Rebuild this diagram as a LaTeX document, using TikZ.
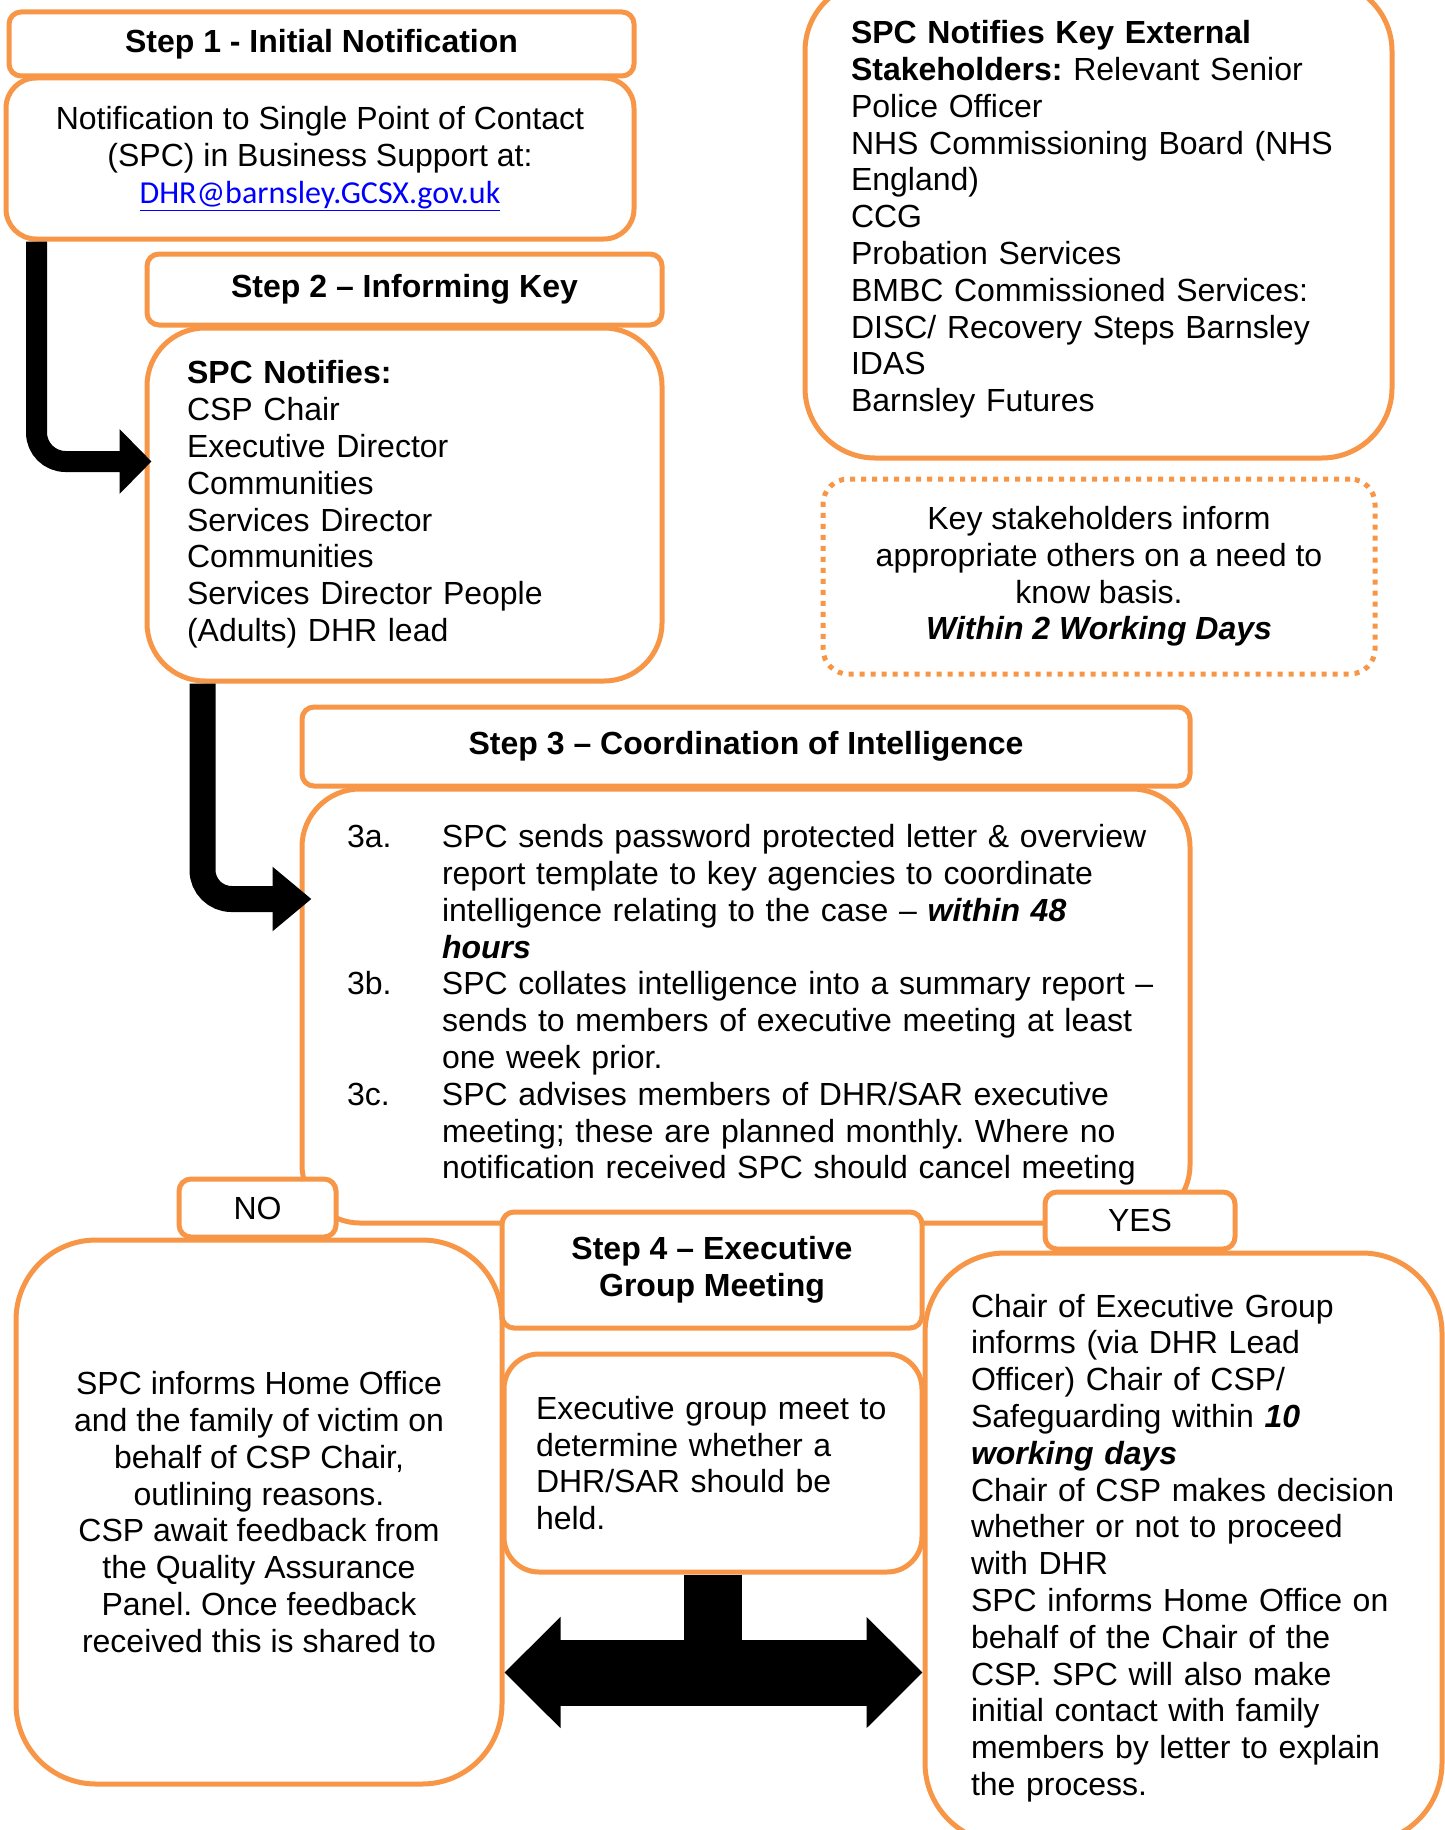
\documentclass[tikz,border=0pt]{standalone}
\usepackage{fontspec}
\setmainfont{Liberation Sans}
\newfontfamily\linkfont{Carlito}
\usepackage{tikz}
\usetikzlibrary{arrows.meta}
\definecolor{stepor}{RGB}{247,150,70}
\definecolor{linkblue}{RGB}{0,0,255}
\frenchspacing

\begin{document}
\begin{tikzpicture}[x=1pt,y=-1pt,font=\fontsize{32}{36.8}\selectfont,
  box/.style={draw=stepor,line width=5pt,fill=white,inner sep=0pt},
  head/.style={box,rounded corners=12pt,align=center,font=\fontsize{32}{36.8}\selectfont\bfseries},
  tag/.style={box,rounded corners=12pt,align=center},
  bigarrow/.style={line width=#1,draw=black}]
\useasboundingbox (0,0) rectangle (1444,1830);
\node[head,minimum width=625pt,minimum height=64pt] (s1head) at (321.5,44) {Step 1 - Initial Notification};
\node[box,rounded corners=30pt,minimum width=628pt,minimum height=161pt,align=center] (s1body) at (320,158.5) {Notification to Single Point of Contact\\(SPC) in Business Support at:\\{\linkfont\color{linkblue}\underline{DHR@barnsley.GCSX.gov.uk}}};
\node[head,minimum width=515pt,minimum height=71pt] (s2head) at (404.5,289.5) {Step 2 – Informing Key};
\node[box,rounded corners=58pt,text width=435pt,inner xsep=40pt,minimum height=353pt,align=left] (s2body) at (404.5,504.5) {\textbf{SPC Notifies:}\\CSP Chair\\Executive Director\\Communities\\Services Director\\Communities\\Services Director People\\(Adults) DHR lead};
\node[box,rounded corners=70pt,text width=495pt,inner xsep=46pt,minimum height=477pt,align=left] (ext) at (1098.5,219.5) {\textbf{SPC Notifies Key External}\\\textbf{Stakeholders:} Relevant Senior\\Police Officer\\NHS Commissioning Board (NHS\\England)\\CCG\\Probation Services\\BMBC Commissioned Services:\\DISC/ Recovery Steps Barnsley\\IDAS\\Barnsley Futures};
\node[box,dash pattern=on 5pt off 6pt,rounded corners=25pt,minimum width=552pt,minimum height=195pt,align=center] (inform) at (1099,576.5) {Key stakeholders inform\\appropriate others on a need to\\know basis.\\\textbf{\textit{Within 2 Working Days}}};
\node[head,minimum width=888pt,minimum height=79pt] (s3head) at (746,746.5) {Step 3 – Coordination of Intelligence};
\node[box,rounded corners=58pt,text width=798pt,inner xsep=45pt,minimum height=434pt,align=left] (s3body) at (746,1006) {\begin{tabular}{@{}p{95pt}@{}l@{}}
3a. & SPC sends password protected letter \& overview\\
    & report template to key agencies to coordinate\\
    & intelligence relating to the case – \textbf{\textit{within 48}}\\
    & \textbf{\textit{hours}}\\
3b. & SPC collates intelligence into a summary report –\\
    & sends to members of executive meeting at least\\
    & one week prior.\\
3c. & SPC advises members of DHR/SAR executive\\
    & meeting; these are planned monthly. Where no\\
    & notification received SPC should cancel meeting
\end{tabular}};
\node[tag,minimum width=157pt,minimum height=58pt] (no) at (257.5,1208) {NO};
\node[box,rounded corners=80pt,minimum width=486pt,minimum height=544pt,align=center] (nobody) at (259,1512) {SPC informs Home Office\\and the family of victim on\\behalf of CSP Chair,\\outlining reasons.\\CSP await feedback from\\the Quality Assurance\\Panel. Once feedback\\received this is shared to};
\node[head,minimum width=420pt,minimum height=116pt] (s4head) at (712,1270) {Step 4 – Executive\\Group Meeting};
\node[box,rounded corners=35pt,text width=354pt,inner xsep=32pt,minimum height=218pt,align=left] (s4body) at (713,1463) {Executive group meet to\\determine whether a\\DHR/SAR should be\\held.};
\node[tag,minimum width=190pt,minimum height=57pt] (yes) at (1140,1220.5) {YES};
\node[box,rounded corners=80pt,text width=425pt,inner xsep=46pt,minimum height=590pt,align=left] (yesbody) at (1183.5,1548) {Chair of Executive Group\\informs (via DHR Lead\\Officer) Chair of CSP/\\Safeguarding within \textbf{\textit{10}}\\\textbf{\textit{working days}}\\Chair of CSP makes decision\\whether or not to proceed\\with DHR\\SPC informs Home Office on\\behalf of the Chair of the\\CSP. SPC will also make\\initial contact with family\\members by letter to explain\\the process.};
\draw[bigarrow=21pt,rounded corners=29pt,-{Triangle[length=32pt,width=63pt]}] ([xshift=33pt]s1body.south west) |- ([xshift=7pt,yshift=43pt]s2body.west);
\draw[bigarrow=26pt,rounded corners=29pt,-{Triangle[length=39pt,width=62pt]}] ([xshift=58pt]s2body.south west) |- ([xshift=12pt,yshift=107pt]s3body.west);
\coordinate (fork) at ([yshift=-98pt]s4body.south);
\draw[bigarrow=58pt] (s4body.south) -- (fork);
\draw[bigarrow=66pt,{Triangle[length=56pt,width=108pt]}-{Triangle[length=56pt,width=108pt]}] (nobody.east |- fork) -- (yesbody.west |- fork);
\end{tikzpicture}
\end{document}
